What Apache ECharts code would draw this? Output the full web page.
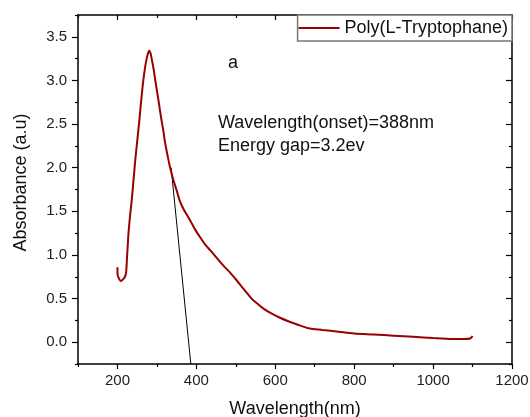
<!DOCTYPE html>
<html><head><meta charset="utf-8">
<script src="https://cdn.jsdelivr.net/npm/echarts@6/dist/echarts.min.js"></script>
<style>html,body{margin:0;padding:0;background:#fff}#c{width:530px;height:417px}</style>
</head><body><div id="c"></div>
<script>
// ---- data ----
const wavelength = [200, 200.5, 205, 209, 214, 219, 222, 224, 226, 228, 232, 236, 240, 245, 250, 255, 260, 265, 270, 275, 279, 281, 284, 288, 292, 297, 304, 310, 316, 321, 327, 333, 341, 350, 358, 367, 376, 386, 397, 410, 422, 436, 451, 468, 485, 502, 519, 540, 555, 570, 590, 612, 633, 654, 684, 720, 760, 800, 850, 900, 950, 1000, 1050, 1080, 1095, 1100];
const absorbance = [0.86, 0.77, 0.72, 0.70, 0.72, 0.75, 0.80, 0.95, 1.10, 1.25, 1.45, 1.62, 1.82, 2.08, 2.30, 2.52, 2.76, 2.98, 3.15, 3.27, 3.33, 3.34, 3.31, 3.22, 3.12, 2.97, 2.77, 2.59, 2.43, 2.28, 2.14, 2.01, 1.87, 1.74, 1.62, 1.53, 1.46, 1.38, 1.29, 1.20, 1.12, 1.05, 0.97, 0.88, 0.80, 0.71, 0.615, 0.50, 0.44, 0.385, 0.33, 0.28, 0.24, 0.205, 0.16, 0.14, 0.12, 0.10, 0.088, 0.075, 0.062, 0.048, 0.037, 0.036, 0.045, 0.072];
const tangentX = [336, 386];
const tangentY = [2.0, -0.25];
const xMajorTicks = [200, 400, 600, 800, 1000, 1200];
const xMinorTicks = [100, 300, 500, 700, 900, 1100];
const yMajorTicks = [0, 0.5, 1.0, 1.5, 2.0, 2.5, 3.0, 3.5];
const yMinorTicks = [-0.25, 0.25, 0.75, 1.25, 1.75, 2.25, 2.75, 3.25, 3.75];
const seriesName = 'Poly(L-Tryptophane)';
const annotations = ['a', 'Wavelength(onset)=388nm', 'Energy gap=3.2ev'];
const xTitle = 'Wavelength(nm)';
const yTitle = 'Absorbance (a.u)';

const FONT = '"Liberation Sans", Arial, sans-serif';
const chart = echarts.init(document.getElementById('c'), null, {renderer: 'canvas'});

function xAx(pos, ticks, len, inside, main) {
  return {
    type: 'value', position: pos, min: 100, max: 1200,
    axisLine: {show: main, onZero: false, lineStyle: {color: '#000', width: 1.5}},
    axisTick: {show: true, inside: inside, length: len, customValues: ticks, lineStyle: {color: '#000', width: 1.2}},
    axisLabel: {show: main && pos === 'bottom', customValues: xMajorTicks, fontSize: 15, color: '#222', fontFamily: FONT, margin: 9,
      formatter: v => String(v)},
    splitLine: {show: false},
    name: (main && pos === 'bottom') ? xTitle : '',
    nameLocation: 'middle', nameGap: 36,
    nameTextStyle: {fontSize: 18, color: '#111', fontFamily: FONT}
  };
}
function yAx(pos, ticks, len, inside, main) {
  return {
    type: 'value', position: pos, min: -0.25, max: 3.75,
    axisLine: {show: main, onZero: false, lineStyle: {color: '#000', width: 1.5}},
    axisTick: {show: true, inside: inside, length: len, customValues: ticks, lineStyle: {color: '#000', width: 1.2}},
    axisLabel: {show: main && pos === 'left', customValues: yMajorTicks, fontSize: 15, color: '#222', fontFamily: FONT, margin: 11,
      formatter: v => v.toFixed(1)},
    splitLine: {show: false},
    name: (main && pos === 'left') ? yTitle : '',
    nameLocation: 'middle', nameGap: 48,
    nameTextStyle: {fontSize: 18, color: '#111', fontFamily: FONT, padding: [0, 0, 0, 14]}
  };
}

const option = {
  animation: false,
  backgroundColor: '#fff',
  grid: {left: 78, right: 18, top: 15, bottom: 53, containLabel: false, outerBoundsMode: 'none'},
  xAxis: [
    xAx('bottom', xMajorTicks, 5, false, true),
    xAx('bottom', xMinorTicks, 3, false, false),
    xAx('top', xMajorTicks, 5, true, true),
    xAx('top', xMinorTicks, 3, true, false)
  ],
  yAxis: [
    yAx('left', yMajorTicks, 6, false, true),
    yAx('left', yMinorTicks, 3, false, false),
    yAx('right', yMajorTicks, 6, true, true),
    yAx('right', yMinorTicks, 3, true, false)
  ],
  legend: {
    data: [seriesName],
    right: 18, top: 15,
    padding: [3, 4, 3, 1],
    itemWidth: 41, itemHeight: 2, icon: 'rect', itemGap: 5,
    backgroundColor: '#fff',
    borderColor: '#777', borderWidth: 1.5, borderRadius: 0,
    textStyle: {fontSize: 18, color: '#111', fontFamily: FONT, lineHeight: 20}
  },
  series: [
    {
      name: seriesName, type: 'line', xAxisIndex: 0, yAxisIndex: 0,
      data: wavelength.map((w, i) => [w, absorbance[i]]),
      showSymbol: false, symbol: 'none', smooth: 0.3,
      lineStyle: {color: '#900', width: 2}, itemStyle: {color: '#900'}
    },
    {
      name: 'tangent', type: 'line', xAxisIndex: 0, yAxisIndex: 0,
      data: tangentX.map((w, i) => [w, tangentY[i]]),
      showSymbol: false, symbol: 'none',
      lineStyle: {color: '#000', width: 1}, itemStyle: {color: '#000'}, z: 1
    }
  ],
  graphic: [
    {type: 'text', left: 228, top: 54, style: {text: annotations[0], font: '18px ' + FONT, fill: '#111'}},
    {type: 'text', left: 218, top: 114, style: {text: annotations[1], font: '18px ' + FONT, fill: '#111'}},
    {type: 'text', left: 218, top: 137, style: {text: annotations[2], font: '18px ' + FONT, fill: '#111'}}
  ]
};
chart.setOption(option);
</script>
</body></html>
